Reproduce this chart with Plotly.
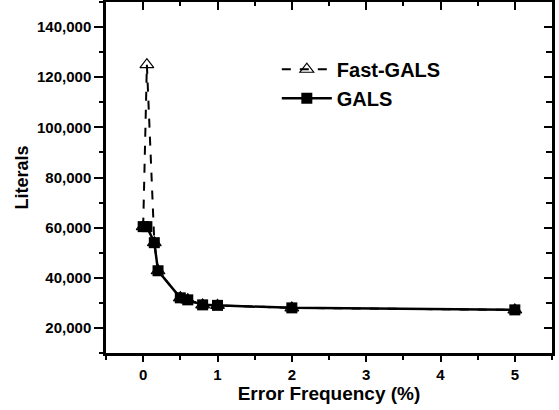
import plotly.graph_objects as go

# ----------------------------------------------------------
# data
# ----------------------------------------------------------

gals_x = [0, 0.05, 0.15, 0.2, 0.5, 0.6, 0.8, 1.0, 2.0, 5.0]
gals_y = [60400, 60400, 54000, 42800, 32000, 31200, 29200, 29000, 28000, 27200]

fast_x = [0, 0.05, 0.15, 0.2, 0.5, 0.6, 0.8, 1.0, 2.0, 5.0]
fast_y = [60400, 125000, 54000, 42800, 32000, 31200, 29200, 29000, 28000, 27200]

y_ticks = [20000, 40000, 60000, 80000, 100000, 120000, 140000]
x_ticks = [0, 1, 2, 3, 4, 5]

FONT = "Liberation Sans"
BLACK = "black"

fig = go.Figure()

fig.add_trace(go.Scatter(
    x=fast_x, y=fast_y,
    name="Fast-GALS",
    mode="lines+markers",
    line=dict(color=BLACK, width=2, dash="dash"),
    marker=dict(symbol="triangle-up-open", size=12, color=BLACK,
                line=dict(width=1.2, color=BLACK)),
))

fig.add_trace(go.Scatter(
    x=gals_x, y=gals_y,
    name="GALS",
    mode="lines+markers",
    line=dict(color=BLACK, width=2.5),
    marker=dict(symbol="square", size=11, color=BLACK),
))

# empty trace so the mirrored (top/right) axes are drawn
fig.add_trace(go.Scatter(
    x=[None], y=[None], xaxis="x2", yaxis="y2",
    showlegend=False, hoverinfo="skip",
))

fig.update_layout(
    width=559,
    height=410,
    paper_bgcolor="white",
    plot_bgcolor="white",
    margin=dict(l=106, r=7, t=2, b=57, autoexpand=False),
    font=dict(family=FONT, color=BLACK, size=13),
    hovermode=False,
    showlegend=True,
    legend=dict(
        x=0.383, y=0.864,
        xanchor="left", yanchor="top",
        bgcolor="rgba(0,0,0,0)",
        font=dict(size=20, weight="bold", family=FONT),
        tracegroupgap=0,
        itemwidth=50,
    ),
    xaxis=dict(
        range=[-0.5, 5.5],
        tickvals=x_ticks,
        ticks="outside", ticklen=6, tickwidth=2, tickcolor=BLACK,
        minor=dict(dtick=0.5, tick0=0, ticks="outside", ticklen=4,
                   tickwidth=2, tickcolor=BLACK),
        showline=True, linewidth=2.5, linecolor=BLACK,
        showgrid=False, zeroline=False, automargin=False,
        tickfont=dict(size=15, weight="bold"),
        title=dict(text="Error Frequency (%)", standoff=2,
                   font=dict(size=19, weight="bold")),
    ),
    yaxis=dict(
        range=[10000, 150000],
        tickvals=y_ticks,
        tickformat=",d",
        ticks="outside", ticklen=9, tickwidth=2, tickcolor=BLACK,
        minor=dict(dtick=10000, tick0=0, ticks="outside", ticklen=4,
                   tickwidth=2, tickcolor=BLACK),
        showline=True, linewidth=2.5, linecolor=BLACK,
        showgrid=False, zeroline=False, automargin=False,
        tickfont=dict(size=15, weight="bold"),
        title=dict(text="Literals", standoff=4,
                   font=dict(size=18, weight="bold")),
    ),
    xaxis2=dict(
        overlaying="x", side="top", anchor="y",
        range=[-0.5, 5.5],
        tickvals=x_ticks,
        ticks="inside", ticklen=8, tickwidth=2, tickcolor=BLACK,
        minor=dict(dtick=0.5, tick0=0, ticks="inside", ticklen=4,
                   tickwidth=2, tickcolor=BLACK),
        showticklabels=False, automargin=False,
        showline=True, linewidth=2.5, linecolor=BLACK,
        showgrid=False, zeroline=False,
    ),
    yaxis2=dict(
        overlaying="y", side="right", anchor="x",
        range=[10000, 150000],
        tickvals=y_ticks,
        ticks="inside", ticklen=8, tickwidth=2, tickcolor=BLACK,
        minor=dict(dtick=10000, tick0=0, ticks="inside", ticklen=6,
                   tickwidth=2, tickcolor=BLACK),
        showticklabels=False, automargin=False,
        showline=True, linewidth=2.5, linecolor=BLACK,
        showgrid=False, zeroline=False,
    ),
)

# the page has a default 8px body margin; drop it so the figure sits at 0,0
fig.write_html(
    "out.html",
    config={"displayModeBar": False},
    post_script="document.body.style.margin='0';",
)
